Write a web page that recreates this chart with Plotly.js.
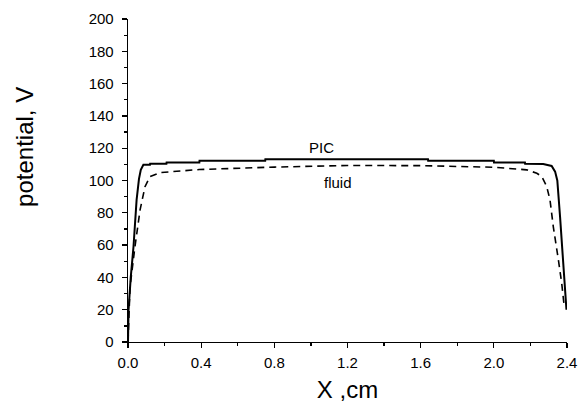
<!DOCTYPE html>
<html>
<head>
<meta charset="utf-8">
<script src="https://cdn.plot.ly/plotly-3.0.1.min.js"></script>
<style>html,body{margin:0;padding:0;background:#fff;}#chart{width:579px;height:408px;}</style>
</head>
<body>
<div id="chart"></div>
<script>
const picX = [0, 0.003, 0.015, 0.03, 0.047, 0.06, 0.07, 0.084, 0.12, 0.121, 0.21, 0.211, 0.39, 0.391, 0.75, 0.751, 1.64, 1.641, 2.0, 2.001, 2.17, 2.171, 2.27, 2.316, 2.335, 2.347, 2.362, 2.38, 2.393, 2.397];
const picY = [0, 20, 40, 59, 88, 101, 106.6, 109.7, 109.7, 110.3, 110.3, 111.1, 111.1, 112.2, 112.2, 113.2, 113.2, 112.2, 112.2, 111.1, 111.1, 110.3, 110.2, 109, 105.5, 100, 77.6, 46.6, 22, 20];
const fluidX = [0, 0.011, 0.038, 0.066, 0.093, 0.12, 0.175, 0.39, 0.8, 1.2, 1.6, 2.0, 2.18, 2.235, 2.262, 2.289, 2.307, 2.325, 2.353, 2.371, 2.385];
const fluidY = [0, 34, 59, 81.8, 96.2, 102.4, 104.9, 106.8, 108.3, 109.3, 109.2, 108.2, 106.6, 104.5, 102.5, 96.3, 88, 71.5, 50.8, 36.4, 21.9];
const labels = ["PIC", "fluid"];
const labelX = [1.06, 1.148];
const labelY = [120.2, 98.5];
const xTitle = 'X ,cm';
const yTitle = 'potential, V';

const traces = [
  {x: picX, y: picY, mode: 'lines', name: labels[0], line: {color: '#000', width: 2}},
  {x: fluidX, y: fluidY, mode: 'lines', name: labels[1], line: {color: '#000', width: 1.6, dash: '7px,5px'}}
];
const fam = 'Liberation Sans, Arial, sans-serif';
const anns = labels.map((t, i) => ({
  x: labelX[i], y: labelY[i], xref: 'x', yref: 'y', text: t, showarrow: false,
  font: {family: fam, size: 15, color: '#000'}
}));
anns.push({
  x: -0.2346, y: 0.604, xref: 'paper', yref: 'paper', text: yTitle, showarrow: false,
  textangle: -90, xanchor: 'center', yanchor: 'middle',
  font: {family: fam, size: 24, color: '#000'}
});
const layout = {
  width: 579, height: 408,
  margin: {l: 128, r: 12, t: 19, b: 66},
  paper_bgcolor: '#fff', plot_bgcolor: '#fff',
  showlegend: false,
  font: {family: fam, color: '#000'},
  xaxis: {
    range: [0, 2.4], dtick: 0.4, tick0: 0, tickformat: '.1f',
    showgrid: false, zeroline: false, showline: true, linecolor: '#000', linewidth: 1.3,
    ticks: 'outside', ticklen: 5, tickwidth: 1.3, tickcolor: '#000', ticklabelstandoff: 2,
    minor: {dtick: 0.2, ticks: 'outside', ticklen: 3, tickwidth: 1.3, tickcolor: '#000', showgrid: false},
    tickfont: {family: fam, size: 15, color: '#000'},
    title: {text: xTitle, font: {family: fam, size: 24, color: '#000'}, standoff: 11},
    automargin: false
  },
  yaxis: {
    range: [0, 200], dtick: 20, tick0: 0,
    showgrid: false, zeroline: false, showline: true, linecolor: '#000', linewidth: 1.3,
    ticks: 'outside', ticklen: 5, tickwidth: 1.3, tickcolor: '#000', ticklabelstandoff: 5,
    minor: {dtick: 10, ticks: 'outside', ticklen: 3, tickwidth: 1.3, tickcolor: '#000', showgrid: false},
    tickfont: {family: fam, size: 15, color: '#000'},
    automargin: false
  },
  annotations: anns
};
Plotly.newPlot('chart', traces, layout, {displayModeBar: false, staticPlot: true});
</script>
</body>
</html>
